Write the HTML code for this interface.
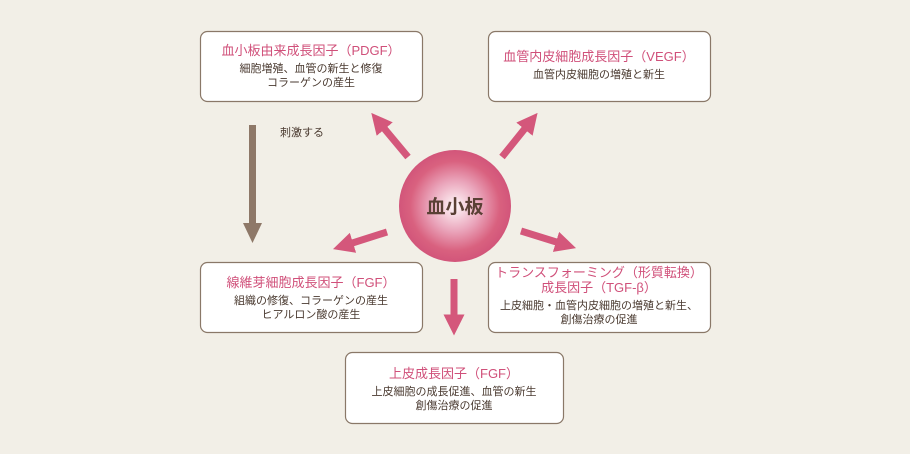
<!DOCTYPE html>
<html><head><meta charset="utf-8"><style>
body{margin:0;background:#f2efe7;}
svg{display:block;font-family:"Liberation Sans","Noto Sans CJK JP",sans-serif;}
.t{fill:#d0507a;font-size:13px;text-anchor:middle;}
.s{fill:#4a3a30;font-size:11px;text-anchor:middle;}
.b{fill:#fff;stroke:#8a7868;stroke-width:1.2;}
</style></head><body>
<svg width="910" height="454" viewBox="0 0 910 454">
<defs>
<radialGradient id="g" cx="0.5" cy="0.5" r="0.5">
<stop offset="0" stop-color="#fff8fa"/><stop offset="0.45" stop-color="#eaa5bb"/><stop offset="0.8" stop-color="#d9617f"/><stop offset="1" stop-color="#d2557a"/>
</radialGradient>
<marker id="a" viewBox="0 0 10 10" refX="5" refY="5" markerWidth="3" markerHeight="3" orient="auto"><path d="M0,0L10,5L0,10z" fill="#d4577b"/></marker>
</defs>
<rect width="910" height="454" fill="#f2efe7"/>
<rect class="b" x="200.5" y="31.5" width="222" height="70" rx="7"/>
<rect class="b" x="488.5" y="31.5" width="222" height="70" rx="7"/>
<rect class="b" x="200.5" y="262.5" width="222" height="70" rx="7"/>
<rect class="b" x="488.5" y="262.5" width="222" height="70" rx="7"/>
<rect class="b" x="345.5" y="352.5" width="218" height="71" rx="7"/>
<text class="t" x="311" y="55">血小板由来成長因子（PDGF）</text>
<text class="s" x="311" y="72">細胞増殖、血管の新生と修復</text>
<text class="s" x="311" y="86">コラーゲンの産生</text>
<text class="t" x="599" y="61">血管内皮細胞成長因子（VEGF）</text>
<text class="s" x="599" y="78">血管内皮細胞の増殖と新生</text>
<text class="t" x="311" y="287">線維芽細胞成長因子（FGF）</text>
<text class="s" x="311" y="304">組織の修復、コラーゲンの産生</text>
<text class="s" x="311" y="318">ヒアルロン酸の産生</text>
<text class="t" x="599" y="277">トランスフォーミング（形質転換）</text>
<text class="t" x="599" y="292">成長因子（TGF-β）</text>
<text class="s" x="599" y="309">上皮細胞・血管内皮細胞の増殖と新生、</text>
<text class="s" x="599" y="323">創傷治療の促進</text>
<text class="t" x="454" y="378">上皮成長因子（FGF）</text>
<text class="s" x="454" y="395">上皮細胞の成長促進、血管の新生</text>
<text class="s" x="454" y="409">創傷治療の促進</text>
<g stroke="#d4577b" stroke-width="7" marker-end="url(#a)">
<line x1="408" y1="157" x2="378" y2="121"/>
<line x1="502" y1="157" x2="531" y2="121"/>
<line x1="387" y1="232" x2="343" y2="246"/>
<line x1="521" y1="231" x2="566" y2="245"/>
<line x1="454" y1="279" x2="454" y2="325"/>
</g>
<rect x="249" y="125" width="7" height="100" fill="#8e7868"/>
<path d="M243,223L262,223L252.5,243z" fill="#8e7868"/>
<text x="280" y="136" style="fill:#4a3a30;font-size:11px;">刺激する</text>
<circle cx="455" cy="206" r="56" fill="url(#g)"/>
<text x="455" y="213" style="fill:#5a4035;font-size:19px;font-weight:bold;text-anchor:middle;">血小板</text>
</svg>
</body></html>
